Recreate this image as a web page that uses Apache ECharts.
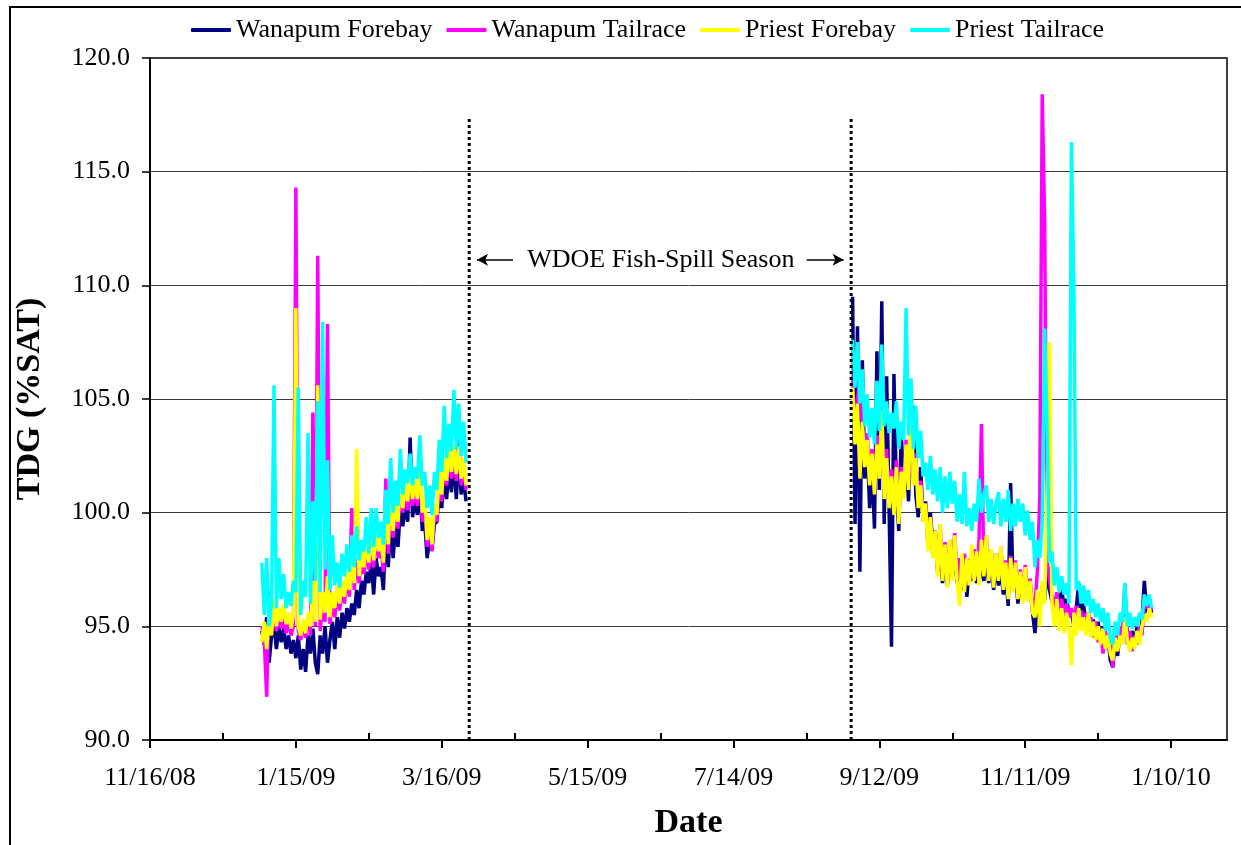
<!DOCTYPE html>
<html><head><meta charset="utf-8">
<script src="https://cdn.jsdelivr.net/npm/echarts@6/dist/echarts.min.js"></script>
<style>html,body{margin:0;padding:0;background:#fff}#c{width:1241px;height:845px}</style>
</head><body><div id="c"></div>
<script>
// x axis: days since 11/16/08
const xTickLabels = ['11/16/08','1/15/09','3/16/09','5/15/09','7/14/09','9/12/09','11/11/09','1/10/10'];
const xTickDays = [0,60,120,180,240,300,360,420];
const xMinorTickDays = [30,90,150,210,270,330,390];
const xMaxDay = 443;
const yTicks = [90,95,100,105,110,115,120];

const seriesNames = ['Wanapum Forebay','Wanapum Tailrace','Priest Forebay','Priest Tailrace'];
const seriesColors = ['#000080','#FF00FF','#FFFF00','#00FFFF'];

// Period 1: daily from day 46 (1/1/09); Period 2: daily from day 289 (9/1/09)
const period1Start = 46;
const period2Start = 289;

const wanapumForebay1 = [94.8,94.2,95.4,93.4,94.6,95.0,94.0,95.0,94.3,94.9,
94.0,94.6,93.8,94.4,93.6,94.6,93.1,94.0,93.0,94.6,
93.8,94.9,93.4,92.9,94.6,93.8,95.0,93.4,94.4,95.2,
94.0,95.4,94.5,95.6,94.9,95.8,95.2,96.0,95.5,96.6,
95.8,97.0,96.4,97.4,96.9,97.8,96.4,98.0,97.2,97.6,
96.6,99.4,97.6,99.6,98.0,99.4,98.5,100.2,99.4,100.4,
99.6,103.3,99.8,100.6,99.9,101.2,99.2,99.6,98.0,98.8,
98.4,99.5,99.6,101.0,100.2,101.6,100.6,102.0,100.9,102.4,
100.6,102.6,100.8,101.5,100.5];
const wanapumTailrace1 = [95.0,94.4,91.9,96.5,95.0,95.5,94.8,95.6,94.9,95.4,
94.7,95.3,94.6,95.0,114.3,94.8,94.4,95.1,94.5,95.4,
94.6,104.4,95.0,111.3,94.8,96.0,95.2,108.3,95.1,96.2,
95.4,96.5,95.7,96.7,96.0,97.2,96.3,100.2,96.6,98.0,
96.9,98.0,97.3,98.4,97.5,98.8,97.6,99.0,98.0,98.5,
97.4,101.5,98.2,100.6,98.9,100.3,99.3,101.2,100.0,101.0,
100.1,101.8,100.3,101.1,100.3,102.1,99.6,100.4,98.5,99.5,
98.3,100.1,99.6,101.7,100.5,102.3,101.2,102.6,101.5,102.8,
101.4,103.4,101.2,102.1,101.0];
const priestForebay1 = [94.3,95.2,94.0,95.5,94.6,96.2,95.0,95.8,95.2,96.0,
95.1,95.6,94.9,95.5,109.0,95.0,94.6,95.3,94.7,95.6,
95.0,97.0,95.2,105.6,95.3,96.5,95.6,97.2,95.4,96.5,
95.8,96.8,96.0,97.0,96.3,97.4,96.6,98.0,96.9,102.8,
97.2,98.3,97.6,98.8,97.8,99.2,97.9,99.3,98.3,98.9,
97.8,100.6,98.6,101.0,99.2,100.6,99.6,101.5,100.2,101.2,
100.5,102.0,100.6,101.4,100.6,102.4,100.0,100.8,98.8,99.8,
98.6,100.4,99.9,102.0,100.8,102.6,101.4,102.8,101.8,103.0,
101.7,102.9,101.5,102.4,101.2];
const priestTailrace1 = [97.8,95.5,98.0,95.0,96.0,105.6,95.8,98.0,96.2,97.3,
95.8,96.5,95.9,97.0,96.5,105.5,95.5,97.0,96.3,103.5,
96.0,100.5,97.0,104.9,96.5,108.4,97.5,102.3,96.6,99.0,
96.8,97.8,96.7,98.2,97.2,98.6,97.4,99.0,97.6,99.4,
97.9,98.8,98.3,99.8,98.2,100.2,98.5,100.2,98.9,99.6,
98.6,101.0,99.5,102.4,100.0,101.4,100.3,102.8,100.8,101.9,
101.3,102.6,101.2,102.0,101.5,103.4,101.2,101.8,100.2,101.2,
99.9,101.8,101.0,103.2,101.8,104.7,102.4,103.9,102.7,105.4,
102.8,104.8,102.5,104.0,102.2];

const wanapumForebay2 = [109.5,99.5,108.2,97.4,106.7,101.5,103.0,100.2,102.0,99.3,
107.1,101.0,109.3,99.5,106.0,100.2,94.1,106.1,101.0,99.2,
103.5,101.0,102.5,100.5,103.5,104.7,100.8,99.8,102.0,99.6,
100.5,99.3,100.0,98.6,99.2,97.4,98.6,96.9,98.4,96.8,
98.5,97.2,98.2,96.9,97.6,96.6,97.8,96.3,97.6,97.0,
97.8,96.9,98.0,97.5,97.0,98.0,96.9,97.8,96.6,97.6,
96.8,97.5,96.4,97.2,95.9,101.3,96.6,97.4,96.0,97.0,
96.3,97.2,96.4,96.8,95.6,94.7,96.0,95.6,96.8,96.2,
97.4,96.6,96.1,95.8,96.4,96.0,96.6,95.9,96.2,95.6,
95.6,95.0,95.8,96.9,95.3,96.0,95.0,95.6,94.7,95.3,
94.5,95.2,94.3,95.0,94.0,94.6,93.5,93.2,94.4,93.7,
94.8,94.3,96.2,94.6,94.0,94.8,94.2,95.0,94.4,95.2,
97.0,95.6,96.0,95.6];
const wanapumTailrace2 = [106.0,103.4,105.0,105.9,103.8,102.2,103.5,101.5,102.8,101.0,
103.4,101.8,104.8,100.8,102.8,100.5,101.9,100.2,102.3,99.8,
102.0,100.9,103.2,101.2,104.0,101.5,102.6,100.5,101.4,99.9,
100.4,98.5,99.8,98.1,99.2,97.4,99.5,97.2,98.7,96.9,
98.8,97.6,99.1,97.1,98.0,96.9,98.2,96.8,98.0,97.1,
98.4,97.2,98.8,103.9,97.4,99.0,97.2,98.4,96.9,98.2,
97.1,98.5,96.8,97.9,96.4,98.1,96.6,97.9,96.3,97.5,
96.2,97.7,96.3,97.1,95.8,96.0,97.4,100.7,118.4,112.8,
98.0,97.0,96.4,95.6,96.5,95.4,96.2,95.2,96.0,95.4,
95.8,95.3,95.9,95.0,95.7,94.9,95.6,94.8,95.4,94.5,
95.2,94.3,94.9,93.8,94.8,94.0,94.4,93.2,94.6,94.0,
95.0,94.6,96.9,94.2,94.8,93.9,94.6,94.2,95.0,94.6,
96.0,95.8,96.2,95.7];
const priestForebay2 = [105.5,103.0,104.8,101.5,104.0,102.0,103.2,101.2,102.6,100.8,
103.0,101.5,104.5,100.6,102.4,100.2,101.6,99.9,102.0,99.5,
101.8,100.6,103.0,101.0,105.9,101.2,102.4,100.2,101.2,99.6,
100.4,98.3,99.8,98.0,99.2,97.2,99.5,97.0,98.6,96.7,
98.8,97.0,99.0,96.9,95.9,98.2,96.5,98.0,96.8,98.6,
97.0,98.3,96.8,98.8,97.2,99.0,97.0,98.4,96.7,98.2,
97.0,98.5,96.6,97.8,96.2,98.0,96.5,97.8,96.2,97.4,
96.0,97.6,96.1,97.0,95.6,95.4,96.6,95.0,97.0,96.0,
101.0,107.5,96.0,95.0,96.2,94.8,95.8,94.7,95.6,94.9,
93.3,95.6,94.6,95.8,94.8,95.4,94.6,95.6,94.5,95.2,
94.4,95.0,94.2,94.9,94.0,94.6,93.8,93.5,94.5,93.9,
94.6,94.2,95.4,94.4,93.9,94.5,94.0,94.8,94.2,95.0,
95.5,95.2,95.8,95.4];
const priestTailrace2 = [107.6,105.5,107.5,104.8,106.3,103.8,105.2,103.3,104.6,103.0,
105.8,103.6,107.4,103.8,104.9,103.5,104.4,103.7,104.9,102.8,
104.0,103.2,109.0,103.4,105.9,102.8,104.7,102.4,103.6,101.6,
102.2,101.0,102.5,100.8,101.9,100.5,102.0,100.0,101.6,100.2,
101.8,100.4,101.4,99.6,100.8,99.5,101.8,99.4,100.2,99.2,
100.4,99.6,101.5,100.0,100.8,101.2,99.6,100.6,99.5,100.4,
100.9,99.4,100.6,99.6,101.0,99.2,100.4,99.4,100.6,99.6,
100.4,99.0,100.1,98.8,99.6,97.6,98.8,98.0,99.6,108.1,
103.8,97.8,98.3,96.8,97.6,96.5,97.2,96.4,96.9,96.0,
116.3,109.9,96.6,97.0,96.0,96.8,95.9,96.6,95.6,96.2,
95.4,96.0,95.2,95.8,94.8,95.6,94.5,94.2,95.2,94.6,
95.6,95.2,96.9,95.0,95.6,94.9,95.4,95.0,95.6,95.3,
96.4,95.9,96.4,95.8];

// Fish-spill season markers (days since 11/16/08)
const spillStartDay = 131.3;
const spillEndDay = 288.4;
const markerTop = 117.4;
const annotationText = 'WDOE Fish-Spill Season';
const annotationDay = 210.1;
const annotationValue = 111.12;
const leftArrow = [149.3, 134.5];
const rightArrow = [270.1, 285.3];

function buildData(v1, v2) {
  const d = [];
  v1.forEach((v, i) => d.push([period1Start + i, v]));
  d.push([(period1Start + v1.length + period2Start) / 2, '-']);
  v2.forEach((v, i) => d.push([period2Start + i, v]));
  return d;
}
const allValues = [
  [wanapumForebay1, wanapumForebay2],
  [wanapumTailrace1, wanapumTailrace2],
  [priestForebay1, priestForebay2],
  [priestTailrace1, priestTailrace2]
];

const FONT = 'Liberation Serif, Times New Roman, serif';
const chart = echarts.init(document.getElementById('c'));

const series = allValues.map((pair, k) => ({
  name: seriesNames[k],
  type: 'line',
  data: buildData(pair[0], pair[1]),
  symbol: 'none',
  connectNulls: false,
  lineStyle: { color: seriesColors[k], width: 3.5 },
  itemStyle: { color: seriesColors[k] },
  z: 3 + k
}));

series.push({
  name: 'spill',
  type: 'line',
  data: [[spillStartDay, yTicks[0]], [spillStartDay, markerTop], [(spillStartDay + spillEndDay) / 2, '-'],
         [spillEndDay, yTicks[0]], [spillEndDay, markerTop]],
  symbol: 'none',
  connectNulls: false,
  lineStyle: { color: '#000', width: 3, type: [3, 3] },
  z: 10,
  markLine: {
    silent: true,
    symbol: ['none', 'arrow'],
    symbolSize: [9, 11],
    label: { show: false },
    lineStyle: { color: '#000', width: 1.5, type: 'solid' },
    data: [
      [{ coord: [leftArrow[0], annotationValue] }, { coord: [leftArrow[1], annotationValue] }],
      [{ coord: [rightArrow[0], annotationValue] }, { coord: [rightArrow[1], annotationValue] }]
    ]
  },
  markPoint: {
    silent: true,
    symbol: 'circle',
    symbolSize: 0,
    data: [{ coord: [annotationDay, annotationValue] }],
    label: { show: true, position: 'inside', formatter: annotationText, color: '#000', fontFamily: FONT, fontSize: 26 }
  }
});

chart.setOption({
  animation: false,
  backgroundColor: '#fff',
  graphic: [{ type: 'rect', shape: { x: 10, y: 7, width: 1400, height: 1000 }, style: { fill: 'none', stroke: '#000', lineWidth: 2 }, silent: true, z: -10 }],
  legend: {
    data: seriesNames,
    left: 186, top: 12,
    icon: 'roundRect',
    itemWidth: 40, itemHeight: 4, itemGap: 14,
    textStyle: { fontFamily: FONT, fontSize: 26, color: '#000' }
  },
  grid: { left: 150, right: 14, top: 58, bottom: 101, show: true, borderColor: '#000', borderWidth: 1.5, containLabel: false },
  xAxis: [{
    type: 'value', min: 0, max: xMaxDay,
    name: 'Date', nameLocation: 'middle', nameGap: 66,
    nameTextStyle: { fontFamily: FONT, fontSize: 34, fontWeight: 'bold', color: '#000' },
    axisLine: { show: true, onZero: false, lineStyle: { color: '#000', width: 2 } },
    axisTick: { show: true, length: 8, lineStyle: { color: '#000', width: 2 }, customValues: xTickDays },
    axisLabel: { margin: 25, fontFamily: FONT, fontSize: 26, color: '#000', customValues: xTickDays,
      formatter: v => { const i = xTickDays.indexOf(v); return i >= 0 ? xTickLabels[i] : ''; } },
    splitLine: { show: false }
  }, {
    type: 'value', min: 0, max: xMaxDay, position: 'bottom',
    axisLine: { show: false },
    axisTick: { show: true, inside: true, length: 7, lineStyle: { color: '#000', width: 2 }, customValues: xMinorTickDays },
    axisLabel: { show: false },
    splitLine: { show: false }
  }],
  yAxis: {
    type: 'value', min: yTicks[0], max: yTicks[yTicks.length - 1], interval: 5,
    name: 'TDG (%SAT)', nameLocation: 'middle', nameGap: 103,
    nameTextStyle: { fontFamily: FONT, fontSize: 34, fontWeight: 'bold', color: '#000' },
    axisLine: { show: true, lineStyle: { color: '#000', width: 2 } },
    axisTick: { show: true, length: 8, lineStyle: { color: '#000', width: 1.5 } },
    axisLabel: { margin: 20, fontFamily: FONT, fontSize: 26, color: '#000', formatter: v => v.toFixed(1) },
    splitLine: { show: true, lineStyle: { color: '#3a3a3a', width: 1 } }
  },
  series: series
});
</script>
</body></html>
